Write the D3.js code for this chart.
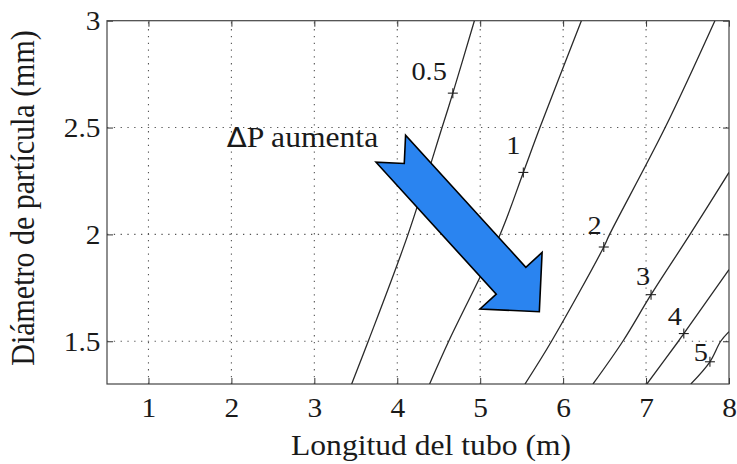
<!DOCTYPE html>
<html>
<head>
<meta charset="utf-8">
<script src="https://cdn.jsdelivr.net/npm/d3@7"></script>
<style>
  html, body { margin: 0; padding: 0; background: #fff; }
  svg { display: block; }
</style>
</head>
<body>
<svg id="chart" width="737" height="464"></svg>
<script>
// Pressure-drop levels (one curve per level)
const pressureLevels = ["0.5", "1", "2", "3", "4", "5"];

// Tube length (m), at the listed particle diameters (mm)
const length05 = [3.45, 3.65, 4.13, 4.54, 4.93];
const diam05   = [1.30, 1.50, 2.00, 2.50, 3.00];
const length1  = [4.39, 4.62, 5.24, 5.72, 6.22];
const diam1    = [1.30, 1.50, 2.00, 2.50, 3.00];
const length2  = [5.54, 5.86, 6.56, 7.23, 7.83];
const diam2    = [1.30, 1.50, 2.00, 2.50, 3.00];
const length3  = [6.36, 6.72, 7.53, 8.00];
const diam3    = [1.30, 1.50, 2.00, 2.29];
const length4  = [7.01, 7.39, 8.00];
const diam4    = [1.30, 1.50, 1.835];
const length5  = [7.54, 7.90, 8.00];
const diam5    = [1.30, 1.50, 1.545];

// Labelled marker on each curve
const markerLength = [4.67, 5.52, 6.49, 7.06, 7.455, 7.77];
const markerDiam   = [2.661, 2.290, 1.941, 1.718, 1.536, 1.404];

// Axis ticks
const xTicks = [1, 2, 3, 4, 5, 6, 7, 8];
const yTicks = [1.5, 2, 2.5, 3];

// Annotation arrow: tail centre and tip, in data units
const arrowTail = [3.922, 2.401];
const arrowTip  = [5.713, 1.638];

const lengthSeries = [length05, length1, length2, length3, length4, length5];
const diamSeries   = [diam05, diam1, diam2, diam3, diam4, diam5];

// ---- layout ----
const W = 737, H = 464;
const margin = { left: 107, right: 8, top: 20.7, bottom: 80 };
const x = d3.scaleLinear().domain([0.5, 8]).range([margin.left, W - margin.right]);
const y = d3.scaleLinear().domain([1.3, 3]).range([H - margin.bottom, margin.top]);
const [x0, x1] = x.range();
const [y0, y1] = y.range(); // y0 bottom, y1 top

const SERIF = '"Liberation Serif", "Times New Roman", serif';
const TEXT_FILL = "#1a1a1a";
const STRETCH = 1.09; // glyphs are drawn slightly wide

// label offsets (px) relative to each marker
const labelOffsets = [[-6, -13], [-3, -18], [-2, -13], [-1, -10], [-2, -9], [-2, -1]];

const svg = d3.select("#chart");

function stretchedText(parent, px, py, size, anchor) {
  return parent.append("text")
    .attr("transform", `translate(${px},${py}) scale(${STRETCH},1)`)
    .attr("text-anchor", anchor || "start")
    .style("font-family", SERIF).style("font-size", size + "px")
    .attr("fill", TEXT_FILL);
}

svg.append("defs").append("clipPath").attr("id", "plotClip")
  .append("rect").attr("x", x0).attr("y", y1).attr("width", x1 - x0).attr("height", y0 - y1);

// grid
const grid = svg.append("g").attr("stroke", "#555").attr("stroke-width", 1.1)
  .attr("stroke-dasharray", "1.3,5.5").attr("fill", "none");
grid.selectAll(".vg").data(xTicks.filter(d => d < 8)).join("line")
  .attr("x1", d => x(d)).attr("x2", d => x(d)).attr("y1", y0).attr("y2", y1);
grid.selectAll(".hg").data(yTicks.filter(d => d < 3)).join("line")
  .attr("x1", x0).attr("x2", x1).attr("y1", d => y(d)).attr("y2", d => y(d));

// axes (ticks inside, mirrored on top/right)
const tickLen = 6;
const axB = svg.append("g").attr("transform", `translate(0,${y0})`)
  .call(d3.axisBottom(x).tickValues(xTicks).tickSizeInner(-tickLen).tickSizeOuter(0).tickPadding(14));
const axT = svg.append("g").attr("transform", `translate(0,${y1})`)
  .call(d3.axisTop(x).tickValues(xTicks).tickSizeInner(-tickLen).tickSizeOuter(0).tickFormat(""));
const axL = svg.append("g").attr("transform", `translate(${x0},0)`)
  .call(d3.axisLeft(y).tickValues(yTicks).tickSizeInner(-tickLen).tickSizeOuter(0).tickPadding(6)
    .tickFormat(d3.format("")));
const axR = svg.append("g").attr("transform", `translate(${x1},0)`)
  .call(d3.axisRight(y).tickValues(yTicks).tickSizeInner(-tickLen).tickSizeOuter(0).tickFormat(""));
[axB, axT, axL, axR].forEach(a => {
  a.attr("font-family", null).attr("font-size", null);
  a.select(".domain").remove();
  a.selectAll("line").attr("stroke", "#333");
  a.selectAll("text").style("font-family", SERIF).style("font-size", "27px")
    .attr("fill", TEXT_FILL).attr("transform", `scale(${STRETCH},1)`);
});
axB.selectAll("text").attr("dy", "0.71em");
axL.selectAll("text").attr("dy", "0.34em");

// frame
svg.append("rect").attr("x", x0).attr("y", y1).attr("width", x1 - x0).attr("height", y0 - y1)
  .attr("fill", "none").attr("stroke", "#444").attr("stroke-width", 1.2);

// curves
const line = d3.line().x(d => x(d[0])).y(d => y(d[1])).curve(d3.curveCatmullRom.alpha(0.5));
const curves = pressureLevels.map((p, i) => {
  const pts = lengthSeries[i].map((L, j) => [L, diamSeries[i][j]]);
  pts.push([markerLength[i], markerDiam[i]]);
  pts.sort((a, b) => a[1] - b[1]);
  return pts;
});
svg.append("g").attr("clip-path", "url(#plotClip)")
  .selectAll("path").data(curves).join("path")
  .attr("d", line).attr("fill", "none").attr("stroke", "#2a2a2a").attr("stroke-width", 1.3);

// markers
const mk = svg.append("g").attr("stroke", "#222").attr("stroke-width", 1.1);
pressureLevels.forEach((p, i) => {
  const cx = x(markerLength[i]), cy = y(markerDiam[i]);
  mk.append("line").attr("x1", cx - 5).attr("x2", cx + 5).attr("y1", cy).attr("y2", cy);
  mk.append("line").attr("x1", cx).attr("x2", cx).attr("y1", cy - 5).attr("y2", cy + 5);
});

// level labels
const lbl = svg.append("g");
pressureLevels.forEach((p, i) => {
  stretchedText(lbl, x(markerLength[i]) + labelOffsets[i][0], y(markerDiam[i]) + labelOffsets[i][1], 26, "end")
    .text(p);
});

// axis titles
stretchedText(svg, 431, 455, 29, "middle").text("Longitud del tubo (m)");
svg.append("text")
  .attr("transform", `translate(34,198) rotate(-90) scale(1,${STRETCH})`)
  .attr("text-anchor", "middle")
  .style("font-family", SERIF).style("font-size", "30px").attr("fill", TEXT_FILL)
  .text("Diámetro de partícula (mm)");

// annotation arrow
(function drawArrow() {
  const tx = x(arrowTail[0]), ty = y(arrowTail[1]);
  const hx = x(arrowTip[0]), hy = y(arrowTip[1]);
  const len = Math.hypot(hx - tx, hy - ty);
  const ux = (hx - tx) / len, uy = (hy - ty) / len;
  const nx = -uy, ny = ux;
  const shaftHalf = 20, headHalf = 42, headLen = 42, notch = 20;
  const P = (a, b) => [tx + ux * a + nx * b, ty + uy * a + ny * b];
  const base = len - headLen;
  const pts = [
    P(0, -shaftHalf), P(notch, 0), P(0, shaftHalf),
    P(base, shaftHalf), P(base, headHalf), P(len, 0),
    P(base, -headHalf), P(base, -shaftHalf)
  ];
  svg.append("path").attr("d", "M" + pts.map(p => p.join(",")).join("L") + "Z")
    .attr("fill", "#2a84f0").attr("stroke", "#000").attr("stroke-width", 1.6)
    .attr("stroke-linejoin", "miter");
})();

// annotation text
const ann = stretchedText(svg, x(1.943), y(2.409), 29, "start");
ann.append("tspan").style("font-family", '"DejaVu Sans", sans-serif').style("font-size", "27px").text("Δ");
ann.append("tspan").text("P aumenta");
</script>
</body>
</html>
